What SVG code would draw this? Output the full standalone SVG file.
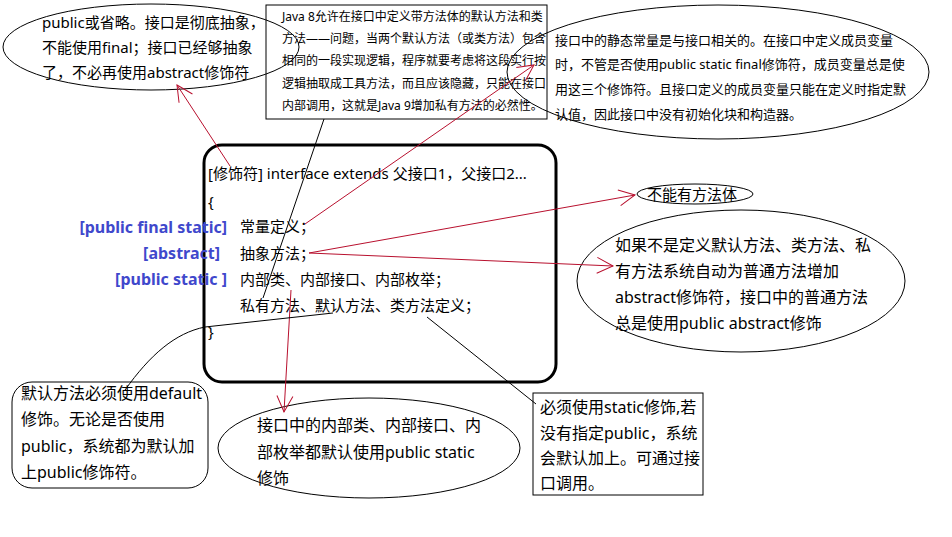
<svg xmlns="http://www.w3.org/2000/svg" width="952" height="537" viewBox="0 0 952 537">
<defs>
<style>
text{font-family:"Noto Sans","Noto Sans CJK SC",sans-serif;fill:#000;}
.t12{font-size:12px;}
.t13{font-size:13px;}
.t14{font-size:15px;}
.t15{font-size:15px;}
.t16{font-size:16px;}
.blue{font-size:16px;font-weight:bold;fill:#3f48cc;text-anchor:end;}
.shape{fill:none;stroke:#000;stroke-width:1;}
.red{fill:none;stroke:#b8102e;stroke-width:1;}
.blk{fill:none;stroke:#000;stroke-width:1;}
</style>
<marker id="ar" viewBox="0 0 20 20" refX="18" refY="10" markerWidth="20" markerHeight="20" markerUnits="userSpaceOnUse" orient="auto">
<path d="M2,2 L18,10 L2,18" fill="none" stroke="#b8102e" stroke-width="1"/>
</marker>
</defs>
<rect width="952" height="537" fill="#fff"/>

<g id="note-top-left">
<ellipse class="shape" cx="151" cy="47" rx="148" ry="43"/>
<text class="t15" x="42" y="28">public或省略。接口是彻底抽象，</text>
<text class="t15" x="42" y="53">不能使用final；接口已经够抽象</text>
<text class="t15" x="42" y="78">了，不必再使用abstract修饰符</text>
</g>

<g id="note-top-box">
<rect class="shape" x="266" y="5" width="281" height="114"/>
<text class="t12" x="282" y="21">Java 8允许在接口中定义带方法体的默认方法和类</text>
<text class="t12" x="282" y="43">方法——问题，当两个默认方法（或类方法）包含</text>
<text class="t12" x="282" y="65">相同的一段实现逻辑，程序就要考虑将这段实行按</text>
<text class="t12" x="282" y="88">逻辑抽取成工具方法，而且应该隐藏，只能在接口</text>
<text class="t12" x="282" y="110">内部调用，这就是Java 9增加私有方法的必然性。</text>
</g>

<g id="note-top-right">
<ellipse class="shape" cx="718" cy="72" rx="211" ry="67"/>
<text class="t13" x="555" y="45">接口中的静态常量是与接口相关的。在接口中定义成员变量</text>
<text class="t13" x="555" y="69">时，不管是否使用public static final修饰符，成员变量总是使</text>
<text class="t13" x="555" y="94">用这三个修饰符。且接口定义的成员变量只能在定义时指定默</text>
<text class="t13" x="555" y="119">认值，因此接口中没有初始化块和构造器。</text>
</g>

<g id="interface-def">
<rect x="204" y="145" width="352" height="237" rx="18" ry="18" fill="none" stroke="#000" stroke-width="3"/>
<text class="t14" x="208" y="179">[修饰符] interface extends 父接口1，父接口2...</text>
<text class="t14" x="208" y="207">{</text>
<text class="t14" x="240" y="232">常量定义；</text>
<text class="t14" x="240" y="259">抽象方法；</text>
<text class="t14" x="240" y="285">内部类、内部接口、内部枚举；</text>
<text class="t14" x="240" y="311">私有方法、默认方法、类方法定义；</text>
<text class="t14" x="208" y="337">}</text>
</g>

<g id="modifiers">
<text class="blue" x="227" y="233">[public final static]</text>
<text class="blue" x="220" y="259">[abstract]</text>
<text class="blue" x="227" y="285">[public static ]</text>
</g>

<g id="note-no-body">
<ellipse class="shape" cx="695" cy="194" rx="58" ry="10"/>
<text class="t15" x="647" y="200">不能有方法体</text>
</g>

<g id="note-abstract">
<ellipse class="shape" cx="741" cy="281" rx="164" ry="71"/>
<text class="t16" x="615" y="251">如果不是定义默认方法、类方法、私</text>
<text class="t16" x="615" y="277">有方法系统自动为普通方法增加</text>
<text class="t16" x="615" y="303">abstract修饰符，接口中的普通方法</text>
<text class="t16" x="615" y="329">总是使用public abstract修饰</text>
</g>

<g id="note-default">
<rect class="shape" x="12" y="382" width="196" height="106" rx="20" ry="20"/>
<text class="t16" x="21" y="399">默认方法必须使用default</text>
<text class="t16" x="21" y="425">修饰。无论是否使用</text>
<text class="t16" x="21" y="452">public，系统都为默认加</text>
<text class="t16" x="21" y="478">上public修饰符。</text>
</g>

<g id="note-inner">
<ellipse class="shape" cx="369" cy="448" rx="151" ry="50"/>
<text class="t16" x="257" y="431">接口中的内部类、内部接口、内</text>
<text class="t16" x="257" y="458">部枚举都默认使用public static</text>
<text class="t16" x="257" y="484">修饰</text>
</g>

<g id="note-static">
<rect class="shape" x="533" y="393" width="170" height="102"/>
<text class="t16" x="540" y="413">必须使用static修饰,若</text>
<text class="t16" x="540" y="439">没有指定public，系统</text>
<text class="t16" x="540" y="464">会默认加上。可通过接</text>
<text class="t16" x="540" y="489">口调用。</text>
</g>

<g id="connectors">
<line class="red" x1="230" y1="166" x2="177" y2="85" marker-end="url(#ar)"/>
<line class="red" x1="305" y1="224" x2="534" y2="65" marker-end="url(#ar)"/>
<line class="red" x1="309" y1="253" x2="635" y2="195" marker-end="url(#ar)"/>
<line class="red" x1="309" y1="253" x2="613" y2="266" marker-end="url(#ar)"/>
<line class="red" x1="291" y1="290" x2="284" y2="412" marker-end="url(#ar)"/>
<line class="blk" x1="324" y1="119" x2="263" y2="298"/>
<path class="blk" d="M333,313 L205,327 C175,333 150,355 125,390"/>
<line class="blk" x1="427" y1="317" x2="536" y2="404"/>
</g>
</svg>
